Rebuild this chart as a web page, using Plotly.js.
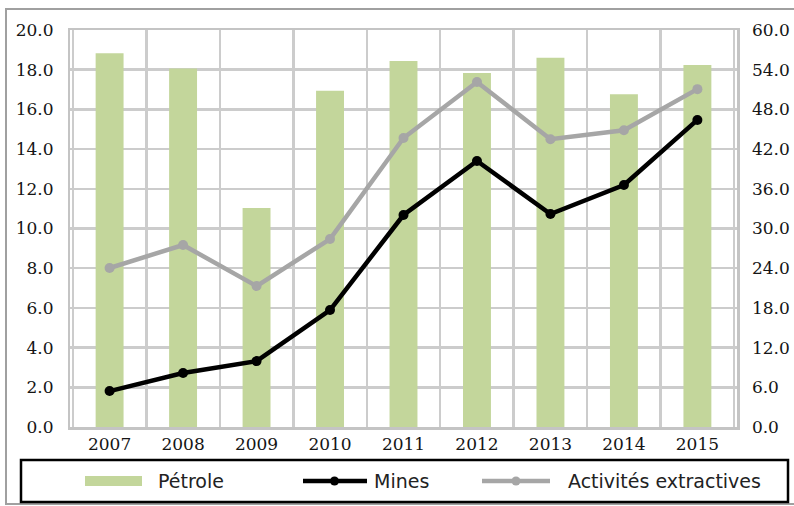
<!DOCTYPE html>
<html>
<head>
<meta charset="utf-8">
<script src="https://cdn.plot.ly/plotly-3.0.1.min.js"></script>
<style>html,body{margin:0;padding:0;background:#fff;}#chart{width:794px;height:506px;}</style>
</head>
<body>
<div id="chart"></div>
<script>
const years = ['2007','2008','2009','2010','2011','2012','2013','2014','2015'];
// Pétrole read on the right axis (0-60)
const petrole = [56.5, 54.2, 33.1, 50.8, 55.3, 53.5, 55.8, 50.3, 54.7];
// Mines and Activités extractives read on the left axis (0-20)
const mines = [1.81, 2.72, 3.32, 5.89, 10.68, 13.4, 10.73, 12.19, 15.47];
const extractives = [8.01, 9.17, 7.1, 9.47, 14.56, 17.38, 14.5, 14.95, 17.02];
const leftTicks = [0,2,4,6,8,10,12,14,16,18,20];
const rightTicks = [0,6,12,18,24,30,36,42,48,54,60];
const legendNames = ['Pétrole', 'Mines', 'Activités extractives'];

const colBar = '#c3d69b', colMines = '#000000', colExt = '#a6a6a6';

const traces = [
  {type:'bar', name:legendNames[0], x:years, y:petrole, yaxis:'y2',
   marker:{color:colBar}, width:0.38},
  {type:'scatter', mode:'lines+markers', name:legendNames[1], x:years, y:mines, yaxis:'y',
   line:{color:colMines, width:4.5}, marker:{color:colMines, size:10}},
  {type:'scatter', mode:'lines+markers', name:legendNames[2], x:years, y:extractives, yaxis:'y',
   line:{color:colExt, width:4.5}, marker:{color:colExt, size:10}}
];

// plot area in pixels: left 70, right 737, top 30, bottom 427
const L = 70, R = 737, T = 30, B = 427;
const px = v => (v - L) / (R - L);
const py = v => (B - v) / (B - T);

const tickFont = {family:'DejaVu Serif', size:17, color:'#151515'};
const legFont = {family:'DejaVu Sans', size:19, color:'#222'};
const ly = 481;

const layout = {
  width:794, height:506,
  margin:{l:L, r:794-R, t:T, b:506-B},
  paper_bgcolor:'#fff', plot_bgcolor:'#fff',
  showlegend:false,
  xaxis:{type:'category', tickson:'boundaries', showgrid:true, gridcolor:'#cccccc', gridwidth:2.5,
    showline:true, linecolor:'#c4c4c4', linewidth:2.5, mirror:true,
    ticks:'outside', ticklen:16, tickcolor:'rgba(0,0,0,0)', tickfont:tickFont, fixedrange:true},
  yaxis2:{range:[0,60], tickvals:rightTicks, tickformat:'.1f', side:'right',
    showgrid:true, gridcolor:'#cccccc', gridwidth:2.5, zeroline:false,
    showline:true, linecolor:'#c4c4c4', linewidth:2.5, mirror:true,
    ticks:'outside', ticklen:9, tickcolor:'rgba(0,0,0,0)', tickfont:tickFont},
  yaxis:{range:[0,20], tickvals:leftTicks, tickformat:'.1f', overlaying:'y2', side:'left',
    showgrid:false, zeroline:false, showline:false,
    ticks:'outside', ticklen:12, tickcolor:'rgba(0,0,0,0)', tickfont:tickFont},
  shapes:[
    {type:'rect', xref:'paper', yref:'paper', x0:px(6), x1:px(800), y0:py(504), y1:py(9),
     line:{color:'#a0a0a0', width:2}, layer:'below'},
    {type:'rect', xref:'paper', yref:'paper', x0:px(21), x1:px(788), y0:py(502), y1:py(460),
     line:{color:'#000', width:2.5}},
    {type:'rect', xref:'paper', yref:'paper', x0:px(85), x1:px(142), y0:py(486), y1:py(476),
     line:{width:0}, fillcolor:colBar},
    {type:'line', xref:'paper', yref:'paper', x0:px(303), x1:px(367), y0:py(ly), y1:py(ly),
     line:{color:colMines, width:4.5}},
    {type:'circle', xref:'paper', yref:'paper', x0:px(330), x1:px(339), y0:py(ly+4.5), y1:py(ly-4.5),
     line:{width:0}, fillcolor:colMines},
    {type:'line', xref:'paper', yref:'paper', x0:px(482), x1:px(550), y0:py(ly), y1:py(ly),
     line:{color:colExt, width:4.5}},
    {type:'circle', xref:'paper', yref:'paper', x0:px(511.5), x1:px(520.5), y0:py(ly+4.5), y1:py(ly-4.5),
     line:{width:0}, fillcolor:colExt}
  ],
  annotations:[
    {text:legendNames[0], xref:'paper', yref:'paper', x:px(156), y:py(ly), xanchor:'left', yanchor:'middle', showarrow:false, font:legFont},
    {text:legendNames[1], xref:'paper', yref:'paper', x:px(372), y:py(ly), xanchor:'left', yanchor:'middle', showarrow:false, font:legFont},
    {text:legendNames[2], xref:'paper', yref:'paper', x:px(566), y:py(ly), xanchor:'left', yanchor:'middle', showarrow:false, font:legFont}
  ]
};
Plotly.newPlot('chart', traces, layout, {displayModeBar:false, staticPlot:true});
</script>
</body>
</html>
